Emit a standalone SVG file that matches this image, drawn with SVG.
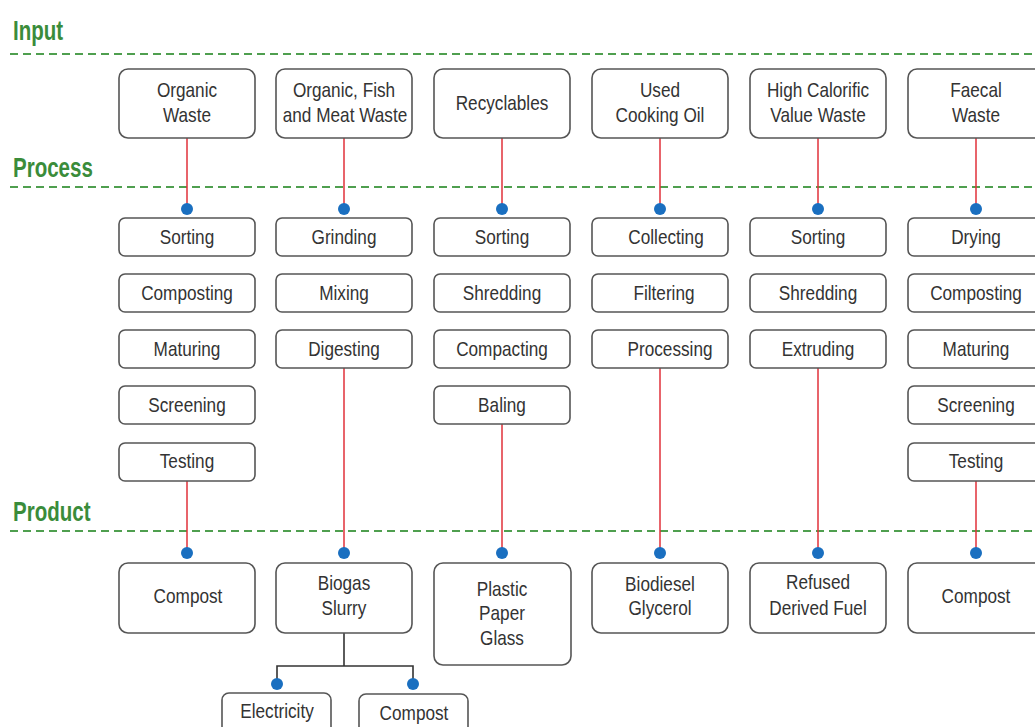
<svg xmlns="http://www.w3.org/2000/svg" width="1035" height="727" viewBox="0 0 1035 727">
<style>
.hd{font-family:"Liberation Sans",Arial,sans-serif;font-weight:bold;font-size:27px;fill:#3a8c3a}
.sep{stroke:#4f9f4f;stroke-width:1.8;stroke-dasharray:8 5;fill:none}
.box{fill:#fff;stroke:#555;stroke-width:1.6}
.t{font-family:"Liberation Sans",Arial,sans-serif;font-size:20px;fill:#333;text-anchor:middle}
.red{stroke:#e0303a;stroke-width:1.5;fill:none}
.blk{stroke:#333;stroke-width:1.6;fill:none}
.dot{fill:#1a6fc0}
</style>
<rect width="1035" height="727" fill="#fff"/>
<g id="headings">
<text class="hd" transform="translate(13 40) scale(0.76 1)">Input</text>
<text class="hd" transform="translate(13 177) scale(0.76 1)">Process</text>
<text class="hd" transform="translate(13 521) scale(0.76 1)">Product</text>
<line class="sep" x1="10" y1="54" x2="1035" y2="54"/>
<line class="sep" x1="10" y1="187" x2="1035" y2="187"/>
<line class="sep" x1="10" y1="531" x2="1035" y2="531"/>
</g>
<g id="connectors">
<line class="red" x1="187" y1="138" x2="187" y2="209"/>
<line class="red" x1="344" y1="138" x2="344" y2="209"/>
<line class="red" x1="502" y1="138" x2="502" y2="209"/>
<line class="red" x1="660" y1="138" x2="660" y2="209"/>
<line class="red" x1="818" y1="138" x2="818" y2="209"/>
<line class="red" x1="976" y1="138" x2="976" y2="209"/>
<line class="red" x1="187" y1="481" x2="187" y2="553"/>
<line class="red" x1="344" y1="368" x2="344" y2="553"/>
<line class="red" x1="502" y1="424" x2="502" y2="553"/>
<line class="red" x1="660" y1="368" x2="660" y2="553"/>
<line class="red" x1="818" y1="368" x2="818" y2="553"/>
<line class="red" x1="976" y1="481" x2="976" y2="553"/>
<polyline class="blk" points="344,633 344,666"/>
<polyline class="blk" points="277,684 277,666 413,666 413,684"/>
<circle class="dot" cx="187" cy="209" r="6"/>
<circle class="dot" cx="344" cy="209" r="6"/>
<circle class="dot" cx="502" cy="209" r="6"/>
<circle class="dot" cx="660" cy="209" r="6"/>
<circle class="dot" cx="818" cy="209" r="6"/>
<circle class="dot" cx="976" cy="209" r="6"/>
<circle class="dot" cx="187" cy="553" r="6"/>
<circle class="dot" cx="344" cy="553" r="6"/>
<circle class="dot" cx="502" cy="553" r="6"/>
<circle class="dot" cx="660" cy="553" r="6"/>
<circle class="dot" cx="818" cy="553" r="6"/>
<circle class="dot" cx="976" cy="553" r="6"/>
<circle class="dot" cx="277" cy="684" r="6"/>
<circle class="dot" cx="413" cy="684" r="6"/>
</g>
<g id="in1"><rect class="box" x="119" y="69" width="136" height="69" rx="9"/><text class="t" transform="translate(187 97) scale(0.86 1)">Organic</text><text class="t" transform="translate(187 122) scale(0.86 1)">Waste</text></g>
<g id="in2"><rect class="box" x="276" y="69" width="136" height="69" rx="9"/><text class="t" transform="translate(344 97) scale(0.86 1)">Organic, Fish</text><text class="t" transform="translate(345 122) scale(0.86 1)">and Meat Waste</text></g>
<g id="in3"><rect class="box" x="434" y="69" width="136" height="69" rx="9"/><text class="t" transform="translate(502 110) scale(0.86 1)">Recyclables</text></g>
<g id="in4"><rect class="box" x="592" y="69" width="136" height="69" rx="9"/><text class="t" transform="translate(660 97) scale(0.86 1)">Used</text><text class="t" transform="translate(660 122) scale(0.86 1)">Cooking Oil</text></g>
<g id="in5"><rect class="box" x="750" y="69" width="136" height="69" rx="9"/><text class="t" transform="translate(818 97) scale(0.86 1)">High Calorific</text><text class="t" transform="translate(818 122) scale(0.86 1)">Value Waste</text></g>
<g id="in6"><rect class="box" x="908" y="69" width="136" height="69" rx="9"/><text class="t" transform="translate(976 97) scale(0.86 1)">Faecal</text><text class="t" transform="translate(976 122) scale(0.86 1)">Waste</text></g>

<g id="p1a"><rect class="box" x="119" y="218" width="136" height="38" rx="6"/><text class="t" transform="translate(187 244) scale(0.86 1)">Sorting</text></g>
<g id="p1b"><rect class="box" x="119" y="274" width="136" height="38" rx="6"/><text class="t" transform="translate(187 300) scale(0.86 1)">Composting</text></g>
<g id="p1c"><rect class="box" x="119" y="330" width="136" height="38" rx="6"/><text class="t" transform="translate(187 356) scale(0.86 1)">Maturing</text></g>
<g id="p1d"><rect class="box" x="119" y="386" width="136" height="38" rx="6"/><text class="t" transform="translate(187 412) scale(0.86 1)">Screening</text></g>
<g id="p1e"><rect class="box" x="119" y="443" width="136" height="38" rx="6"/><text class="t" transform="translate(187 468) scale(0.86 1)">Testing</text></g>

<g id="p2a"><rect class="box" x="276" y="218" width="136" height="38" rx="6"/><text class="t" transform="translate(344 244) scale(0.86 1)">Grinding</text></g>
<g id="p2b"><rect class="box" x="276" y="274" width="136" height="38" rx="6"/><text class="t" transform="translate(344 300) scale(0.86 1)">Mixing</text></g>
<g id="p2c"><rect class="box" x="276" y="330" width="136" height="38" rx="6"/><text class="t" transform="translate(344 356) scale(0.86 1)">Digesting</text></g>

<g id="p3a"><rect class="box" x="434" y="218" width="136" height="38" rx="6"/><text class="t" transform="translate(502 244) scale(0.86 1)">Sorting</text></g>
<g id="p3b"><rect class="box" x="434" y="274" width="136" height="38" rx="6"/><text class="t" transform="translate(502 300) scale(0.86 1)">Shredding</text></g>
<g id="p3c"><rect class="box" x="434" y="330" width="136" height="38" rx="6"/><text class="t" transform="translate(502 356) scale(0.86 1)">Compacting</text></g>
<g id="p3d"><rect class="box" x="434" y="386" width="136" height="38" rx="6"/><text class="t" transform="translate(502 412) scale(0.86 1)">Baling</text></g>

<g id="p4a"><rect class="box" x="592" y="218" width="136" height="38" rx="6"/><text class="t" transform="translate(666 244) scale(0.86 1)">Collecting</text></g>
<g id="p4b"><rect class="box" x="592" y="274" width="136" height="38" rx="6"/><text class="t" transform="translate(664 300) scale(0.86 1)">Filtering</text></g>
<g id="p4c"><rect class="box" x="592" y="330" width="136" height="38" rx="6"/><text class="t" transform="translate(670 356) scale(0.86 1)">Processing</text></g>

<g id="p5a"><rect class="box" x="750" y="218" width="136" height="38" rx="6"/><text class="t" transform="translate(818 244) scale(0.86 1)">Sorting</text></g>
<g id="p5b"><rect class="box" x="750" y="274" width="136" height="38" rx="6"/><text class="t" transform="translate(818 300) scale(0.86 1)">Shredding</text></g>
<g id="p5c"><rect class="box" x="750" y="330" width="136" height="38" rx="6"/><text class="t" transform="translate(818 356) scale(0.86 1)">Extruding</text></g>

<g id="p6a"><rect class="box" x="908" y="218" width="136" height="38" rx="6"/><text class="t" transform="translate(976 244) scale(0.86 1)">Drying</text></g>
<g id="p6b"><rect class="box" x="908" y="274" width="136" height="38" rx="6"/><text class="t" transform="translate(976 300) scale(0.86 1)">Composting</text></g>
<g id="p6c"><rect class="box" x="908" y="330" width="136" height="38" rx="6"/><text class="t" transform="translate(976 356) scale(0.86 1)">Maturing</text></g>
<g id="p6d"><rect class="box" x="908" y="386" width="136" height="38" rx="6"/><text class="t" transform="translate(976 412) scale(0.86 1)">Screening</text></g>
<g id="p6e"><rect class="box" x="908" y="443" width="136" height="38" rx="6"/><text class="t" transform="translate(976 468) scale(0.86 1)">Testing</text></g>

<g id="o1"><rect class="box" x="119" y="563" width="136" height="70" rx="9"/><text class="t" transform="translate(188 603) scale(0.86 1)">Compost</text></g>
<g id="o2"><rect class="box" x="276" y="563" width="136" height="70" rx="9"/><text class="t" transform="translate(344 590) scale(0.86 1)">Biogas</text><text class="t" transform="translate(344 615) scale(0.86 1)">Slurry</text></g>
<g id="o3"><rect class="box" x="434" y="563" width="137" height="102" rx="9"/><text class="t" transform="translate(502 596) scale(0.86 1)">Plastic</text><text class="t" transform="translate(502 620) scale(0.86 1)">Paper</text><text class="t" transform="translate(502 645) scale(0.86 1)">Glass</text></g>
<g id="o4"><rect class="box" x="592" y="563" width="136" height="70" rx="9"/><text class="t" transform="translate(660 591) scale(0.86 1)">Biodiesel</text><text class="t" transform="translate(660 615) scale(0.86 1)">Glycerol</text></g>
<g id="o5"><rect class="box" x="750" y="563" width="136" height="70" rx="9"/><text class="t" transform="translate(818 589) scale(0.86 1)">Refused</text><text class="t" transform="translate(818 615) scale(0.86 1)">Derived Fuel</text></g>
<g id="o6"><rect class="box" x="908" y="563" width="136" height="70" rx="9"/><text class="t" transform="translate(976 603) scale(0.86 1)">Compost</text></g>
<g id="o2a"><rect class="box" x="222" y="693" width="109" height="45" rx="7"/><text class="t" transform="translate(277 718) scale(0.86 1)">Electricity</text></g>
<g id="o2b"><rect class="box" x="359" y="694" width="109" height="45" rx="7"/><text class="t" transform="translate(414 720) scale(0.86 1)">Compost</text></g>
</svg>
